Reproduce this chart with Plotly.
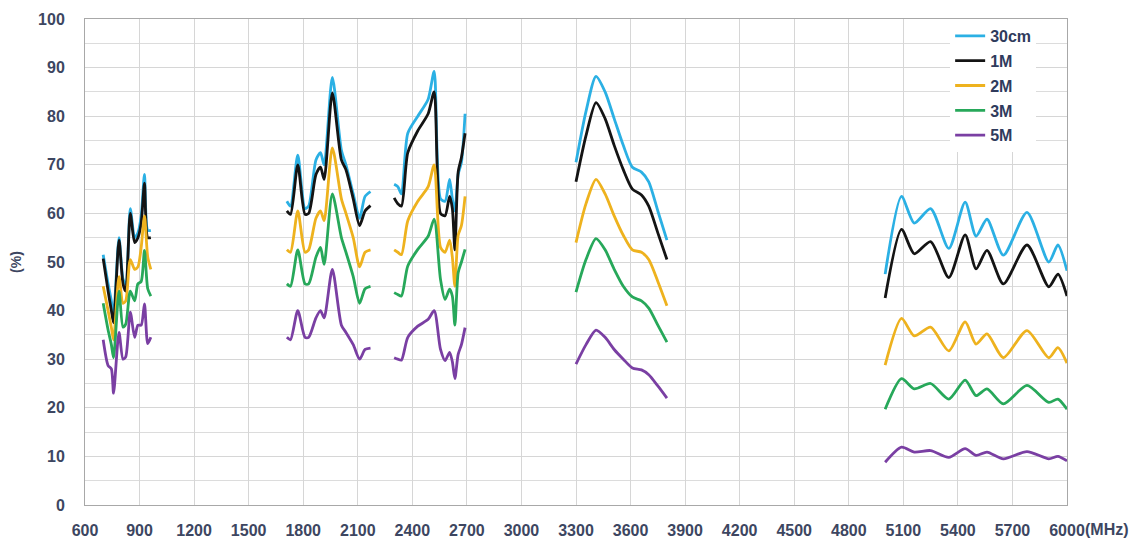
import plotly.graph_objects as go

# Frequency (MHz) for each band; None separates the bands
FREQ_MHZ = (
    [700, 727, 745, 757, 787, 809, 824, 849, 873, 891, 909, 927, 945, 962] + [None] +
    [1710, 1730, 1770, 1810, 1830, 1870, 1895, 1915, 1960, 2010, 2035, 2075, 2110, 2140, 2170] + [None] +
    [2300, 2320, 2340, 2375, 2430, 2487, 2520, 2555, 2580, 2605, 2620, 2634, 2652, 2670, 2690] + [None] +
    [3300, 3355, 3410, 3460, 3510, 3560, 3610, 3660, 3700, 3750, 3800] + [None] +
    [5000, 5090, 5160, 5250, 5350, 5440, 5500, 5560, 5650, 5780, 5900, 5950, 6000]
)

S_30CM = (
    [51.5, 45.5, 42, 39, 55, 46.5, 45.5, 61, 55, 56, 59.5, 68, 56.5, 56.5] + [None] +
    [62.5, 61.5, 72, 61, 61.5, 71, 72.5, 70, 88, 73, 70, 64, 59, 63.5, 64.5] + [None] +
    [66, 65.5, 64, 76.5, 80, 83.5, 89.2, 63, 62.5, 67, 63, 60.5, 68, 70.5, 80.5] + [None] +
    [70.5, 81, 88.2, 85, 79.5, 74, 69.5, 68.5, 66.5, 60.5, 54.5] + [None] +
    [47.5, 63.5, 58, 61, 52.8, 62.3, 55.3, 58.8, 51.4, 60.2, 50, 53.5, 48.2]
)
S_1M = (
    [50.7, 44, 40, 37.5, 54.5, 45.5, 44, 60, 54, 55, 58, 66.2, 55, 55] + [None] +
    [60.5, 59.8, 70, 59.8, 60, 68, 69.5, 67, 84.8, 71, 69, 63, 57.5, 60.5, 61.6] + [None] +
    [63.2, 62, 61.5, 72.5, 77, 80.5, 85, 60, 59.5, 63.5, 61, 52.5, 68.5, 71.5, 76.5] + [None] +
    [66.5, 76, 82.8, 79.5, 74, 69, 65, 63.8, 61.5, 56, 50.5] + [None] +
    [42.6, 56.7, 51.7, 54.2, 46.8, 55.6, 48.6, 52.4, 45.5, 53.5, 44.9, 47.5, 43]
)
S_2M = (
    [45, 40, 36.5, 34, 47, 41.5, 42, 50.5, 48.5, 49, 53, 59.5, 51, 48.5] + [None] +
    [52.5, 52, 60.5, 52, 52.5, 59, 60.5, 58.5, 73.5, 63, 60, 55, 49, 52, 52.5] + [None] +
    [52.5, 52, 51.5, 58.5, 62.5, 65.5, 70, 53, 52, 54.5, 51, 45, 55.5, 57.5, 63.5] + [None] +
    [54, 62, 67, 64, 59.5, 55.5, 52.5, 52, 50.5, 46, 41] + [None] +
    [28.8, 38.4, 34.8, 36.6, 31.7, 37.7, 33.1, 35.2, 30.3, 35.9, 30.3, 32.4, 29.2]
)
S_3M = (
    [41.5, 36, 33, 30.3, 44, 36.6, 37.2, 44, 42, 45.5, 46, 52.4, 44.5, 43] + [None] +
    [45.5, 45, 52.5, 45.5, 45.5, 51, 53, 49.5, 64, 55, 52, 47, 41.5, 44.5, 45] + [None] +
    [43.7, 43.3, 43, 49.2, 52.6, 55.3, 58.8, 46.4, 42.3, 44.4, 43, 37, 47.8, 50, 52.6] + [None] +
    [43.8, 50.5, 54.8, 52.5, 48.5, 45, 42.8, 42, 40.5, 37, 33.5] + [None] +
    [19.7, 26, 23.9, 25, 21.8, 25.7, 22.5, 23.9, 20.8, 24.6, 21.1, 21.8, 19.7]
)
S_5M = (
    [34, 28.7, 28, 23, 35.5, 30, 30.5, 39.7, 34.5, 37, 37, 41.4, 33.2, 34.5] + [None] +
    [34.5, 34, 40, 34.5, 34.5, 38.5, 40, 38.5, 48.5, 37, 35.5, 33, 30, 32, 32.3] + [None] +
    [30.3, 30, 29.8, 34.5, 36.8, 38.2, 40, 32, 29.7, 31.4, 29.5, 26, 31, 33, 36.5] + [None] +
    [29, 33, 36, 34.5, 32, 30, 28.2, 27.8, 26.8, 24.5, 22] + [None] +
    [8.8, 11.9, 10.9, 11.2, 9.8, 11.6, 10.2, 10.9, 9.5, 11.0, 9.5, 10.0, 9.1]
)

SERIES_NAMES = ["30cm", "1M", "2M", "3M", "5M"]
SERIES_COLORS = ["#2bb0e4", "#141414", "#eeb21e", "#27a85a", "#7a3fa3"]

X_TICKS = list(range(600, 6001, 300))
Y_TICKS = list(range(0, 101, 10))

LABEL_COLOR = "#3d4661"
FONT = "Liberation Sans, Arial, sans-serif"

fig = go.Figure()
for name, vals, color in zip(SERIES_NAMES, [S_30CM, S_1M, S_2M, S_3M, S_5M], SERIES_COLORS):
    fig.add_trace(go.Scatter(
        x=FREQ_MHZ, y=vals, name=name, mode="lines", connectgaps=False,
        legendgroup=name,
        line=dict(color=color, width=2.8, shape="spline", smoothing=0.7),
    ))

# the page body adds an 8px offset; the figure is sized to fit the window
fig.update_layout(
    width=1139, height=530,
    margin=dict(l=77, r=80, t=11, b=33),
    paper_bgcolor="white", plot_bgcolor="white",
    font=dict(family=FONT, color=LABEL_COLOR),
    showlegend=True,
    legend=dict(
        x=0.881, xanchor="left", y=1, yanchor="top",
        bgcolor="white", borderwidth=0,
        font=dict(family=FONT, size=16, color="#2f3b5c", weight="bold"),
        tracegroupgap=1, itemwidth=30,
    ),
    annotations=[dict(
        x=6000, xref="x", y=0, yref="paper", xanchor="left", yanchor="top",
        text="(MHz)", showarrow=False, xshift=16, yshift=-14,
        font=dict(family=FONT, size=16, color=LABEL_COLOR, weight="bold"),
    )],
)

fig.update_xaxes(
    range=[600, 6000], tickvals=X_TICKS, ticktext=[str(t) for t in X_TICKS],
    showgrid=True, gridcolor="#d6d6d6", gridwidth=1,
    showline=True, mirror=True, linecolor="#a8a8a8", linewidth=1,
    zeroline=False, ticks="", ticklabelstandoff=11, automargin=False,
    tickfont=dict(family=FONT, size=16, color=LABEL_COLOR, weight="bold"),
)
fig.update_yaxes(
    range=[0, 100], tickvals=Y_TICKS,
    showgrid=True, gridcolor="#d6d6d6", gridwidth=1,
    minor=dict(dtick=5, showgrid=True, gridcolor="#dcdcdc"),
    showline=True, mirror=True, linecolor="#a8a8a8", linewidth=1,
    zeroline=False, ticks="", ticklabelstandoff=16, automargin=False,
    tickfont=dict(family=FONT, size=16, color=LABEL_COLOR, weight="bold"),
    title=dict(text="(%)", standoff=14, font=dict(family=FONT, size=14, color=LABEL_COLOR, weight="bold")),
)

fig.write_html("out.html")
